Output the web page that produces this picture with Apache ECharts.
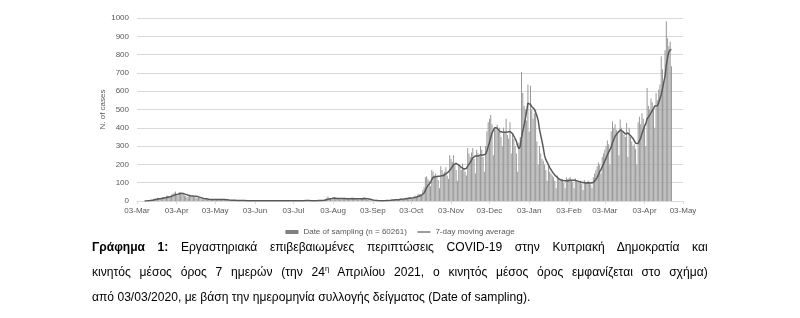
<!DOCTYPE html>
<html>
<head>
<meta charset="utf-8">
<script src="https://cdn.jsdelivr.net/npm/echarts@6/dist/echarts.min.js"></script>
<style>
  html, body { margin: 0; padding: 0; background: #fff; }
  #wrap { position: relative; width: 800px; height: 318px; overflow: hidden; }
  #chart { position: absolute; left: 0; top: 0; width: 800px; height: 318px; }
  #caption { position: absolute; left: 92px; top: 234px; width: 662px;
    transform: scaleX(0.93); transform-origin: 0 0;
    font-family: "Liberation Sans", Arial, sans-serif; font-size: 13px; line-height: 25px; color: #000; }
  #caption .j { text-align: justify; text-align-last: justify; white-space: nowrap; }
  #caption .l { text-align: left; white-space: nowrap; }
  #caption sup { font-size: 8px; vertical-align: 5px; line-height: 0; }
</style>
</head>
<body>
<div id="wrap">
  <div id="chart"></div>
  <div id="caption">
    <div class="j"><b>Γράφημα 1:</b> Εργαστηριακά επιβεβαιωμένες περιπτώσεις COVID-19 στην Κυπριακή Δημοκρατία και</div>
    <div class="j">κινητός μέσος όρος 7 ημερών (την 24<sup>η</sup> Απριλίου 2021, ο κινητός μέσος όρος εμφανίζεται στο σχήμα)</div>
    <div class="l">από 03/03/2020, με βάση την ημερομηνία συλλογής δείγματος (Date of sampling).</div>
  </div>
</div>
<script>
// ---- Data (daily cases by date of sampling) ----
const startDate = '2020-03-03';
const endDate = '2021-05-03';
const monthNames = ['Jan','Feb','Mar','Apr','May','Jun','Jul','Aug','Sep','Oct','Nov','Dec'];
const yTicks = [0,100,200,300,400,500,600,700,800,900,1000];
const barName = 'Date of sampling (n = 60261)';
const lineName = '7-day moving average';

const mar2020 = [0,0,0,0,0,0,2,3,1,3,6,8,6,12,14,10,18,16,14,12,20,22,18,28,30,25,20,35,40];
const apr2020 = [45,52,38,30,48,42,35,40,30,28,20,25,32,28,30,26,22,18,15,20,16,12,10,8,9,11,7,6,8,9];
const may2020 = [7,9,6,10,8,12,9,7,8,5,6,4,5,3,4,2,3,5,2,3,1,2,4,1,2,3,1,0,2,1,3];
const jun2020 = [1,2,0,3,1,2,4,1,0,2,1,3,0,1,2,1,0,2,1,0,3,1,2,0,1,2,1,0,2,1];
const jul2020 = [1,2,3,1,0,2,3,1,2,4,2,1,3,2,1,0,2,3,1,2,4,2,3,1,5,4,6,10,18,25,12];
const aug2020 = [15,8,14,20,12,16,18,10,9,15,13,14,17,12,11,8,16,14,13,15,12,10,7,14,12,16,22,10,8,6,5];
const sep2020 = [4,3,2,1,3,2,1,2,3,1,2,4,3,2,5,6,4,8,7,5,9,10,8,12,14,11,9,15,18,16];
const oct2020 = [18,22,15,10,25,30,28,35,40,38,30,60,75,130,135,120,110,80,170,160,140,150,130,115,70,190,170,150,160,185,140];
const nov2020 = [120,250,230,215,250,200,170,110,200,190,170,205,180,160,140,290,260,240,265,290,230,150,280,262,250,300,280,240,160,300];
const dec2020 = [380,430,450,470,420,250,400,390,416,380,400,350,300,400,380,449,360,340,430,260,360,340,300,260,160,320,350,705,590,520,500];
const jan2021 = [440,636,380,630,500,450,480,498,325,200,300,260,230,220,200,170,110,190,160,150,140,130,110,70,140,120,110,115,120,100,70];
const feb2021 = [130,120,125,130,115,105,70,125,110,105,100,110,95,60,115,105,100,110,105,90,70,130,150,170,190,210,200,150];
const mar2021 = [240,260,280,300,330,310,200,380,435,400,420,390,380,250,445,400,380,360,350,428,240,400,350,325,300,310,285,200,430,460,420];
const apr2021 = [480,450,420,300,617,520,500,560,540,500,400,590,550,608,636,791,720,650,824,982,890,845,870,736];

const cases = [].concat(mar2020, apr2020, may2020, jun2020, jul2020, aug2020, sep2020,
  oct2020, nov2020, dec2020, jan2021, feb2021, mar2021, apr2021);

// categories: every day from startDate to endDate
const categories = [];
(function () {
  let d = new Date(startDate + 'T00:00:00Z');
  const e = new Date(endDate + 'T00:00:00Z');
  while (d <= e) {
    categories.push(d.toISOString().slice(0, 10));
    d = new Date(d.getTime() + 86400000);
  }
})();

// trailing 7-day moving average of the daily series
const movingAvg = cases.map((v, i) => {
  if (i < 6) return null;
  let s = 0;
  for (let k = i - 6; k <= i; k++) s += cases[k];
  return s / 7;
});
const lastIdx = movingAvg.length - 1;
const maData = movingAvg.map((v, i) => i === lastIdx ? {
  value: v,
  label: { show: true, position: 'right', distance: 6, formatter: v.toFixed(1),
    fontSize: 8, color: '#404040', fontFamily: 'Liberation Sans' }
} : v);

function isMonthTick(idx, val) { return val.slice(8, 10) === '03'; }
function fmtLabel(val) { return val.slice(8, 10) + '-' + monthNames[parseInt(val.slice(5, 7), 10) - 1]; }

const chart = echarts.init(document.getElementById('chart'), null, { renderer: 'canvas' });
chart.setOption({
  animation: false,
  backgroundColor: '#ffffff',
  textStyle: { fontFamily: 'Liberation Sans' },
  grid: { left: 137, right: 117, top: 18, bottom: 117, containLabel: false },
  legend: {
    left: 'center', top: 223, itemWidth: 13, itemHeight: 4, itemGap: 10,
    textStyle: { fontSize: 8, color: '#595959', fontFamily: 'Liberation Sans' },
    data: [
      { name: barName, icon: 'rect', itemStyle: { color: '#808080' } },
      { name: lineName, itemStyle: { opacity: 0 }, lineStyle: { color: '#595959', width: 1.2 } }
    ]
  },
  xAxis: {
    type: 'category', data: categories, boundaryGap: false,
    axisLine: { lineStyle: { color: '#d9d9d9' } },
    axisTick: { show: true, interval: isMonthTick, length: 3, lineStyle: { color: '#d9d9d9' } },
    axisLabel: { interval: isMonthTick, formatter: fmtLabel, fontSize: 8, color: '#595959', margin: 6 }
  },
  yAxis: {
    type: 'value', min: yTicks[0], max: yTicks[yTicks.length - 1], interval: 100,
    name: 'N. of cases', nameLocation: 'middle', nameGap: 30, nameMoveOverlap: false,
    nameTextStyle: { fontSize: 8, color: '#595959' },
    axisLine: { show: false }, axisTick: { show: false },
    axisLabel: { fontSize: 8, color: '#595959', margin: 8, formatter: (v) => String(v) },
    splitLine: { lineStyle: { color: '#d9d9d9', width: 1 } }
  },
  series: [
    { name: barName, type: 'bar', data: cases, barCategoryGap: '35%',
      itemStyle: { color: '#999999' }, z: 2 },
    { name: lineName, type: 'line', data: maData, symbol: 'none', showSymbol: false,
      lineStyle: { color: '#595959', width: 1.5 }, itemStyle: { color: '#595959' }, z: 3 }
  ]
});
</script>
</body>
</html>
